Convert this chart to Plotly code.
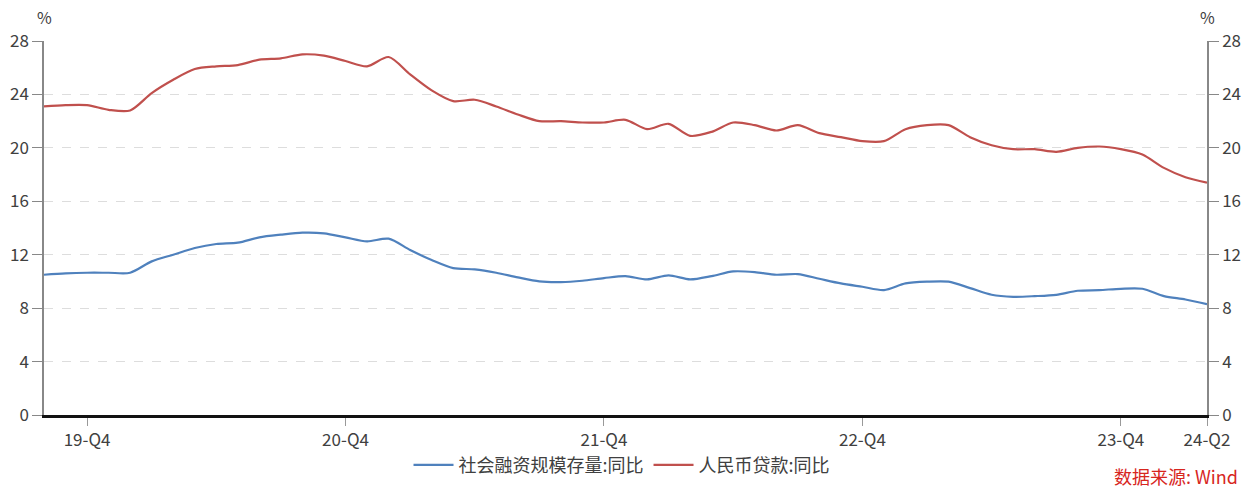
import plotly.graph_objects as go

# Monthly observations, 2019-10 through 2024-04 (index 0..54)
months = list(range(55))

# 社会融资规模存量:同比 (%)
social_financing = [
    10.5, 10.6, 10.65, 10.65, 10.65, 11.5, 12.0, 12.5, 12.8, 12.9,
    13.3, 13.5, 13.65, 13.6, 13.3, 13.0, 13.2, 12.35, 11.6, 11.0,
    10.9, 10.65, 10.3, 10.0, 9.95, 10.05, 10.25, 10.4, 10.15, 10.45,
    10.15, 10.4, 10.75, 10.7, 10.5, 10.55, 10.2, 9.85, 9.6, 9.35,
    9.85, 9.98, 9.98, 9.5, 9.0, 8.85, 8.9, 9.0, 9.3, 9.35,
    9.45, 9.45, 8.9, 8.65, 8.3,
]

# 人民币贷款:同比 (%)
rmb_loans = [
    23.1, 23.2, 23.2, 22.85, 22.8, 24.1, 25.1, 25.9, 26.1, 26.2,
    26.6, 26.7, 27.0, 26.9, 26.5, 26.1, 26.8, 25.5, 24.3, 23.5,
    23.6, 23.1, 22.5, 22.0, 22.0, 21.9, 21.9, 22.1, 21.4, 21.8,
    20.9, 21.2, 21.9, 21.7, 21.3, 21.7, 21.1, 20.8, 20.5, 20.5,
    21.4, 21.7, 21.7, 20.8, 20.2, 19.9, 19.9, 19.7, 20.0, 20.1,
    19.9, 19.5, 18.5, 17.8, 17.4,
]

tick_positions = [2, 14, 26, 38, 50, 54]
tick_labels = ["19-Q4", "20-Q4", "21-Q4", "22-Q4", "23-Q4", "24-Q2"]
y_ticks = [0, 4, 8, 12, 16, 20, 24, 28]

FONT = "Noto Sans CJK SC"
TEXT = "#404040"

fig = go.Figure()
fig.add_trace(go.Scatter(
    x=months, y=social_financing, name="社会融资规模存量:同比",
    mode="lines", line=dict(color="#4F81BD", width=2.2, shape="spline", smoothing=0.8),
    yaxis="y",
))
fig.add_trace(go.Scatter(
    x=months, y=rmb_loans, name="人民币贷款:同比",
    mode="lines", line=dict(color="#C0504D", width=2.2, shape="spline", smoothing=0.8),
    yaxis="y2",
))

axis_common = dict(
    range=[0, 28], tickvals=y_ticks, ticks="outside", ticklen=10, tickcolor="#888888",
    tickfont=dict(family=FONT, size=17, color=TEXT),
    showline=True, linecolor="#888888", linewidth=1.5, zeroline=False,
)

fig.update_layout(
    width=1254, height=492,
    margin=dict(l=44, r=47, t=41, b=77, autoexpand=False),
    paper_bgcolor="white", plot_bgcolor="white",
    font=dict(family=FONT, color=TEXT),
    xaxis=dict(
        range=[0, 54], tickvals=tick_positions, ticktext=tick_labels,
        ticks="outside", ticklen=8, tickcolor="#999999",
        tickfont=dict(family=FONT, size=17, color=TEXT),
        showline=True, linecolor="#111111", linewidth=2.5,
        showgrid=False, zeroline=False,
    ),
    yaxis=dict(
        **axis_common, side="left",
        showgrid=True, gridcolor="#DDDDDD", griddash="dash", gridwidth=1,
    ),
    yaxis2=dict(
        **axis_common, side="right", overlaying="y", showgrid=False,
    ),
    legend=dict(
        orientation="h", x=0.497, xanchor="center", y=-0.134, yanchor="middle",
        font=dict(family=FONT, size=18, color=TEXT),
        itemwidth=40, bgcolor="rgba(0,0,0,0)",
    ),
    showlegend=True,
)

fig.add_annotation(text="%", xref="paper", yref="paper", x=0.0, y=1.064,
                   xanchor="center", yanchor="middle",
                   showarrow=False, font=dict(family=FONT, size=16, color=TEXT))
fig.add_annotation(text="%", xref="paper", yref="paper", x=1.0, y=1.064,
                   xanchor="center", yanchor="middle",
                   showarrow=False, font=dict(family=FONT, size=16, color=TEXT))
fig.add_annotation(text="数据来源: Wind", xref="paper", yref="paper",
                   x=1.028, y=-0.2032, xanchor="right", yanchor="bottom",
                   showarrow=False, font=dict(family=FONT, size=18, color="#D7261E"))

fig.write_html("out.html")
